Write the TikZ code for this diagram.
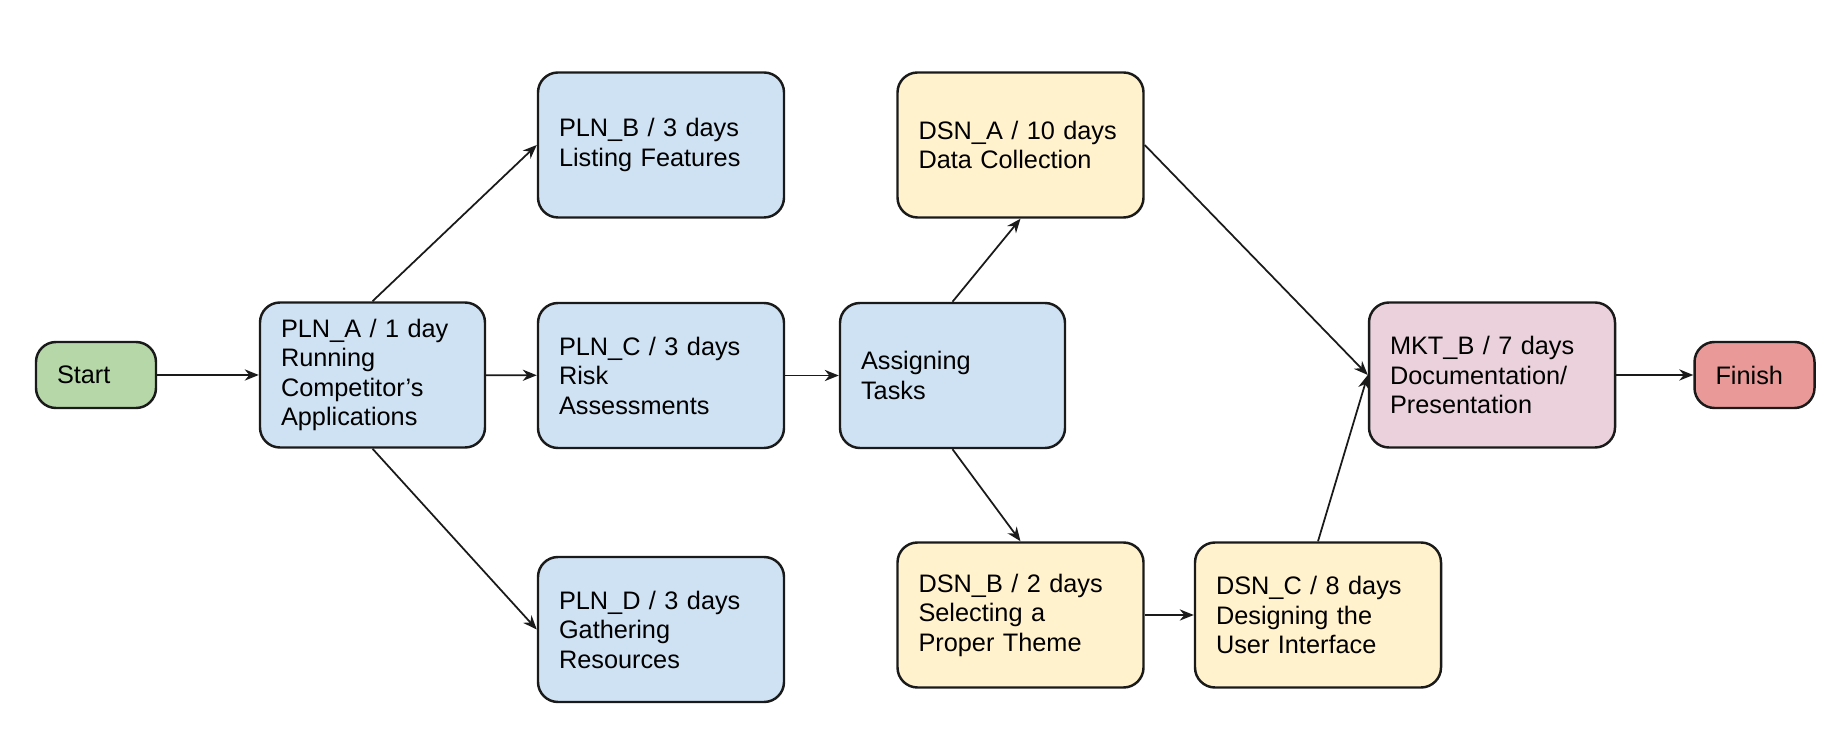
\documentclass[tikz,border=0pt]{standalone}
\usepackage{fontspec}
\setmainfont{Liberation Sans}
\usepackage{tikz}
\usetikzlibrary{arrows.meta}
\usetikzlibrary{positioning}
\definecolor{PlanBlue}{HTML}{CFE2F3}
\definecolor{DesignYellow}{HTML}{FFF2CC}
\definecolor{MarketPink}{HTML}{EAD1DC}
\definecolor{StartGreen}{HTML}{B6D7A8}
\definecolor{FinishRed}{HTML}{EA9999}
\definecolor{EdgeGray}{HTML}{1A1A1A}
\tikzstyle{task} = [draw=EdgeGray, line width=0.7pt, rounded corners=0.2cm, inner xsep=0.21cm, inner ysep=0pt, align=left, font=\fontsize{7.2}{8.4}\selectfont]
\tikzstyle{wide} = [task, text width=2.04cm, minimum height=1.45cm]
\tikzstyle{narrow} = [task, text width=1.83cm, minimum height=1.45cm]
\tikzstyle{term} = [task, text width=0.78cm, minimum height=0.66cm]
\tikzstyle{arrow} = [line width=0.5pt, EdgeGray, -{Stealth[length=4pt, width=3.2pt]}]

\begin{document}
\begin{tikzpicture}
    \useasboundingbox (0,0) rectangle (18.42,-7.40);
    % terminals
    \node[term, fill=StartGreen] (start) at (0.96,-3.75) {Start};
    \node[term, fill=FinishRed] (finish) at (17.545,-3.75) {Finish};
    % planning
    \node[narrow, fill=PlanBlue] (plnA) at (3.725,-3.75) {PLN\_A / 1 day\\Running\\Competitor's\\Applications};
    \node[wide, fill=PlanBlue] (plnB) at (6.61,-1.45) {PLN\_B / 3 days\\Listing Features};
    \node[wide, fill=PlanBlue] (plnC) at (6.61,-3.755) {PLN\_C / 3 days\\Risk\\Assessments};
    \node[wide, fill=PlanBlue] (plnD) at (6.61,-6.295) {PLN\_D / 3 days\\Gathering\\Resources};
    \node[narrow, fill=PlanBlue] (tasks) at (9.525,-3.755) {Assigning\\Tasks};
    % design
    \node[wide, fill=DesignYellow] (dsnA) at (10.205,-1.45) {DSN\_A / 10 days\\Data Collection};
    \node[wide, fill=DesignYellow] (dsnB) at (10.205,-6.15) {DSN\_B / 2 days\\Selecting a\\Proper Theme};
    \node[wide, fill=DesignYellow] (dsnC) at (13.18,-6.15) {DSN\_C / 8 days\\Designing the\\User Interface};
    % marketing
    \node[wide, fill=MarketPink] (mktB) at (14.92,-3.75) {MKT\_B / 7 days\\Documentation/\\Presentation};
    % connectors
    \draw[arrow] (start) -- (plnA);
    \draw[arrow] (plnA.north) -- (plnB.west);
    \draw[arrow] (plnA) -- (plnC);
    \draw[arrow] (plnA.south) -- (plnD.west);
    \draw[arrow] (plnC) -- (tasks);
    \draw[arrow] (tasks.north) -- (dsnA.south);
    \draw[arrow] (tasks.south) -- (dsnB.north);
    \draw[arrow] (dsnB) -- (dsnC);
    \draw[arrow] (dsnA.east) -- (mktB.west);
    \draw[arrow] (dsnC.north) -- (mktB.west);
    \draw[arrow] (mktB) -- (finish);
\end{tikzpicture}
\end{document}
